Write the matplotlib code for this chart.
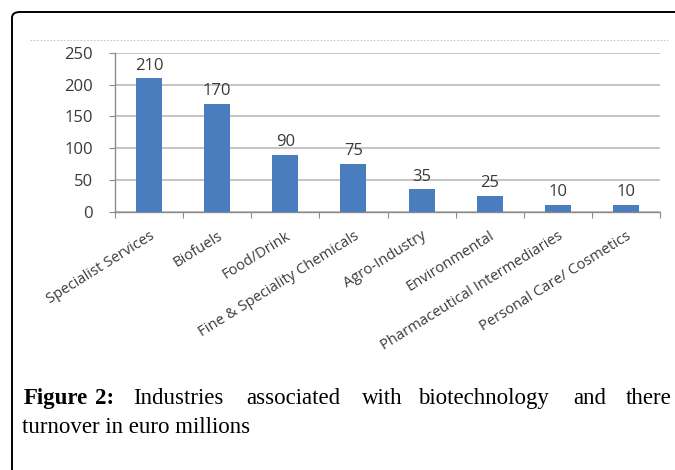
import matplotlib
matplotlib.use("Agg")
import matplotlib.pyplot as plt
from matplotlib.patches import FancyBboxPatch
from matplotlib.lines import Line2D

# chart data
industries = ["Specialist Services", "Biofuels", "Food/Drink",
              "Fine & Speciality Chemicals", "Agro-Industry", "Environmental",
              "Pharmaceutical Intermediaries", "Personal Care/ Cosmetics"]
turnover = [210, 170, 90, 75, 35, 25, 10, 10]
y_ticks = [0, 50, 100, 150, 200, 250]

# caption words (line 1 is justified in the source)
caption_bold = ["Figure", "2:"]
caption_line1 = ["Industries", "associated", "with", "biotechnology", "and", "there"]
caption_line2 = "turnover in euro millions"

W, H = 675, 470
fig = plt.figure(figsize=(W / 100, H / 100), dpi=100)

def fx(px):
    return px / W

def fy(py):
    return 1 - py / H

# panel border with rounded corner, running off the right and bottom edge
box = FancyBboxPatch((fx(12), fy(490)), fx(700), 478 / H,
                     boxstyle="round,pad=0,rounding_size=0.012",
                     transform=fig.transFigure, fill=False,
                     edgecolor="black", linewidth=1.4)
fig.patches.append(box)

# faint dotted line at the top of the embedded chart image
fig.lines.append(Line2D([fx(30), fx(668)], [fy(40), fy(40)],
                        transform=fig.transFigure, color="#c8c8c8",
                        linestyle=(0, (1.5, 1.5)), linewidth=0.8))

ax = fig.add_axes([fx(115), fy(211.7), fx(545), (211.7 - 53) / H])
x = list(range(len(industries)))
bars = ax.bar(x, turnover, width=0.38, color="#4a7dbd", zorder=3)

chart_font = "Open Sans"
txt_color = "#3a3a3a"
for xi, v in zip(x, turnover):
    ax.annotate(str(v), (xi, v), xytext=(0, 3.5), textcoords="offset points",
                ha="center", va="bottom", fontsize=12, color=txt_color,
                family=chart_font)

ax.set_xlim(-0.5, len(industries) - 0.5)
ax.set_ylim(0, 250)
ax.set_yticks(y_ticks)
ax.set_yticklabels([str(t) for t in y_ticks], family=chart_font,
                   fontsize=12, color=txt_color)
ax.yaxis.grid(True, color="#b4b4b4", linewidth=1.1, zorder=0)
ax.tick_params(axis="y", length=4, width=0.8, color="#8c8c8c", pad=12)

ax.set_xticks(x)
ax.set_xticklabels(industries, rotation=32, ha="right", va="top",
                   rotation_mode="anchor", family=chart_font,
                   fontsize=10.6, color=txt_color)
ax.tick_params(axis="x", which="major", length=0, pad=12)
ax.set_xticks([i - 0.5 for i in range(len(industries) + 1)], minor=True)
ax.tick_params(axis="x", which="minor", length=4, width=0.8, color="#8c8c8c")

for side in ["top", "right"]:
    ax.spines[side].set_visible(False)
for side in ["left", "bottom"]:
    ax.spines[side].set_color("#8c8c8c")
    ax.spines[side].set_linewidth(1.0)

# caption
cap_font = "Liberation Serif"
bold_x = [24, 95]
for word, px in zip(caption_bold, bold_x):
    fig.text(fx(px), fy(404), word, family=cap_font, fontweight="bold",
             fontsize=16.5, va="baseline", ha="left")
line1_x = [133, 246, 362, 418, 573, 626]
for word, px in zip(caption_line1, line1_x):
    fig.text(fx(px), fy(404), word, family=cap_font, fontsize=16.5,
             va="baseline", ha="left")
fig.text(fx(22), fy(433), caption_line2, family=cap_font, fontsize=16.5,
         va="baseline", ha="left")

fig.savefig("out.png", dpi=100)
